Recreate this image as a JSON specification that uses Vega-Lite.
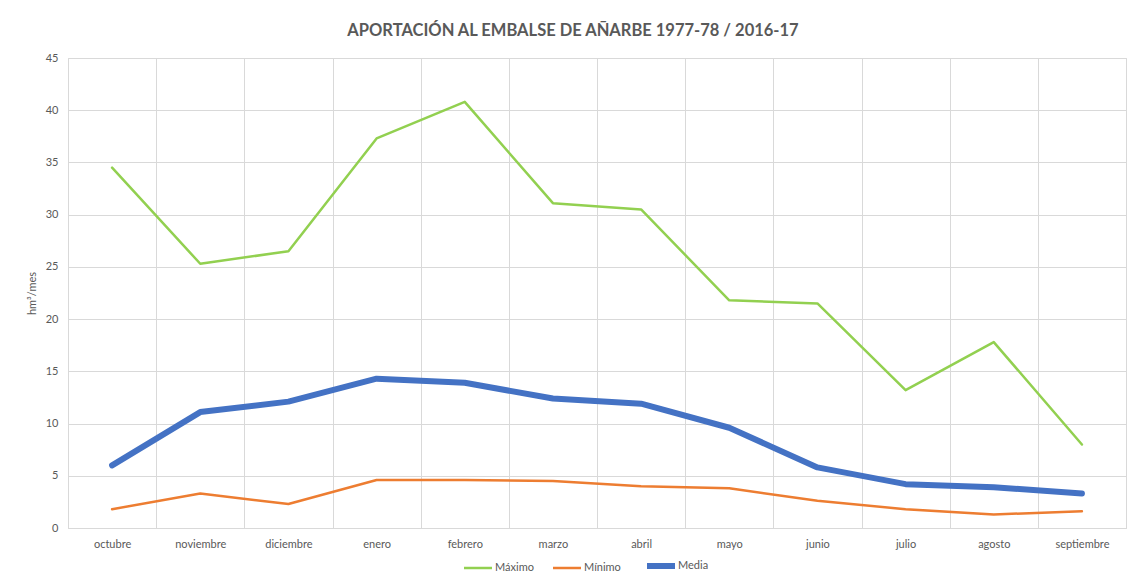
{
  "$schema": "https://vega.github.io/schema/vega-lite/v6.json",
  "autosize": {"type": "none"},
  "width": 1058,
  "height": 470,
  "padding": {"left": 68, "top": 58, "right": 2, "bottom": 51},
  "background": "white",
  "config": {
    "font": "Lato",
    "view": {"stroke": "#d9d9d9"},
    "axis": {"labelColor": "#595959", "labelFont": "Lato", "labelFontSize": 11, "titleColor": "#595959", "titleFont": "Lato", "gridColor": "#d9d9d9", "ticks": false}
  },
  "title": {"text": "APORTACIÓN AL EMBALSE DE AÑARBE 1977-78 / 2016-17", "fontSize": 16.5, "fontWeight": "bold", "color": "#595959", "font": "Lato", "anchor": "middle", "dx": -24, "offset": 13},
  "data": {"values": [
    {"mes": "octubre", "serie": "Máximo", "valor": 34.5},
    {"mes": "noviembre", "serie": "Máximo", "valor": 25.3},
    {"mes": "diciembre", "serie": "Máximo", "valor": 26.5},
    {"mes": "enero", "serie": "Máximo", "valor": 37.3},
    {"mes": "febrero", "serie": "Máximo", "valor": 40.8},
    {"mes": "marzo", "serie": "Máximo", "valor": 31.1},
    {"mes": "abril", "serie": "Máximo", "valor": 30.5},
    {"mes": "mayo", "serie": "Máximo", "valor": 21.8},
    {"mes": "junio", "serie": "Máximo", "valor": 21.5},
    {"mes": "julio", "serie": "Máximo", "valor": 13.2},
    {"mes": "agosto", "serie": "Máximo", "valor": 17.8},
    {"mes": "septiembre", "serie": "Máximo", "valor": 8.0},
    {"mes": "octubre", "serie": "Mínimo", "valor": 1.8},
    {"mes": "noviembre", "serie": "Mínimo", "valor": 3.3},
    {"mes": "diciembre", "serie": "Mínimo", "valor": 2.3},
    {"mes": "enero", "serie": "Mínimo", "valor": 4.6},
    {"mes": "febrero", "serie": "Mínimo", "valor": 4.6},
    {"mes": "marzo", "serie": "Mínimo", "valor": 4.5},
    {"mes": "abril", "serie": "Mínimo", "valor": 4.0},
    {"mes": "mayo", "serie": "Mínimo", "valor": 3.8},
    {"mes": "junio", "serie": "Mínimo", "valor": 2.6},
    {"mes": "julio", "serie": "Mínimo", "valor": 1.8},
    {"mes": "agosto", "serie": "Mínimo", "valor": 1.3},
    {"mes": "septiembre", "serie": "Mínimo", "valor": 1.6},
    {"mes": "octubre", "serie": "Media", "valor": 6.0},
    {"mes": "noviembre", "serie": "Media", "valor": 11.1},
    {"mes": "diciembre", "serie": "Media", "valor": 12.1},
    {"mes": "enero", "serie": "Media", "valor": 14.3},
    {"mes": "febrero", "serie": "Media", "valor": 13.9},
    {"mes": "marzo", "serie": "Media", "valor": 12.4},
    {"mes": "abril", "serie": "Media", "valor": 11.9},
    {"mes": "mayo", "serie": "Media", "valor": 9.6},
    {"mes": "junio", "serie": "Media", "valor": 5.8},
    {"mes": "julio", "serie": "Media", "valor": 4.2},
    {"mes": "agosto", "serie": "Media", "valor": 3.9},
    {"mes": "septiembre", "serie": "Media", "valor": 3.3}
  ]},
  "mark": {"type": "line", "strokeCap": "round", "strokeJoin": "round"},
  "encoding": {
    "x": {
      "field": "mes", "type": "nominal",
      "sort": ["octubre", "noviembre", "diciembre", "enero", "febrero", "marzo", "abril", "mayo", "junio", "julio", "agosto", "septiembre"],
      "scale": {"type": "band", "paddingInner": 0, "paddingOuter": 0},
      "axis": {"title": null, "labelAngle": 0, "tickBand": "extent", "grid": true, "domainColor": "#d9d9d9", "labelPadding": 10}
    },
    "y": {
      "field": "valor", "type": "quantitative",
      "scale": {"domain": [0, 45], "nice": false},
      "axis": {"title": "hm³/mes", "values": [0, 5, 10, 15, 20, 25, 30, 35, 40, 45], "domain": false, "labelPadding": 10, "titleFontSize": 11, "titleFontWeight": "normal", "titlePadding": 8}
    },
    "color": {
      "field": "serie", "type": "nominal",
      "scale": {"domain": ["Máximo", "Mínimo", "Media"], "range": ["#92d050", "#ed7d31", "#4472c4"]},
      "legend": {"title": null, "orient": "none", "direction": "horizontal", "legendX": 395, "legendY": 493, "symbolType": "M-1,0H1", "symbolSize": 784, "labelFontSize": 11, "labelColor": "#595959", "labelFont": "Lato", "columnPadding": 14, "labelOffset": 3,
        "encode": {"symbols": {"update": {"x": {"value": 15}, "y": {"signal": "datum.value === 'Media' ? 15 : 12"}}}, "labels": {"update": {"x": {"value": 32}, "y": {"signal": "datum.value === 'Media' ? 15 : 12"}}}}}
    },
    "strokeWidth": {
      "field": "serie", "type": "nominal",
      "scale": {"type": "ordinal", "domain": ["Máximo", "Mínimo", "Media"], "range": [2.5, 2.5, 6]},
      "legend": {"title": null, "orient": "none", "direction": "horizontal", "legendX": 395, "legendY": 493, "symbolType": "M-1,0H1", "symbolSize": 784, "labelFontSize": 11, "labelColor": "#595959", "labelFont": "Lato", "columnPadding": 14, "labelOffset": 3,
        "encode": {"symbols": {"update": {"x": {"value": 15}, "y": {"signal": "datum.value === 'Media' ? 15 : 12"}}}, "labels": {"update": {"x": {"value": 32}, "y": {"signal": "datum.value === 'Media' ? 15 : 12"}}}}}
    }
  }
}
